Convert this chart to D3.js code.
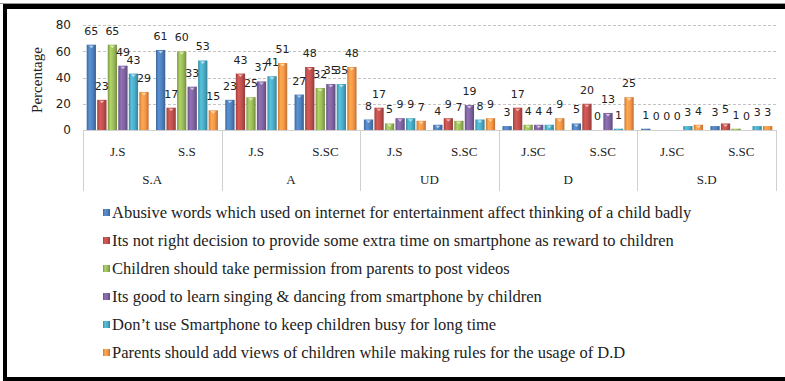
<!DOCTYPE html>
<html>
<head>
<meta charset="utf-8">
<script src="https://cdn.jsdelivr.net/npm/d3@7/dist/d3.min.js"></script>
<style>
  html, body { margin: 0; padding: 0; background: #fff; }
  svg { display: block; }
</style>
</head>
<body>
<svg id="chart" width="785" height="381"></svg>
<script>
// ---------------- DATA ----------------
const groups = ["S.A", "A", "UD", "D", "S.D"];
const subCategories = ["J.S", "S.S", "J.S", "S.SC", "J.S", "S.SC", "J.SC", "S.SC", "J.SC", "S.SC"];
const seriesNames = [
  "Abusive words which used on internet for entertainment affect  thinking of a child badly",
  "Its not right decision to provide some extra time on smartphone as reward to children",
  "Children should take permission from parents to post videos",
  "Its good to learn singing & dancing from smartphone by children",
  "Don\u2019t use Smartphone to keep children busy for long time",
  "Parents should add views of children while making rules for the usage of D.D"
];
const abusiveWords    = [65, 61, 23, 27, 8, 4, 3, 5, 1, 3];
const extraTime       = [23, 17, 43, 48, 17, 9, 17, 20, 0, 5];
const permission      = [65, 60, 25, 32, 5, 7, 4, 0, 0, 1];
const singingDancing  = [49, 33, 37, 35, 9, 19, 4, 13, 0, 0];
const keepBusy        = [43, 53, 41, 35, 9, 8, 4, 1, 3, 3];
const childrenViews   = [29, 15, 51, 48, 7, 9, 9, 25, 4, 3];
const yTicks = [0, 20, 40, 60, 80];
const yTitle = "Percentage";

const seriesValues = [abusiveWords, extraTime, permission, singingDancing, keepBusy, childrenViews];
const colors = ["#4F81BD", "#C0504D", "#9BBB59", "#8064A2", "#4BACC6", "#F79646"];

// ---------------- LAYOUT ----------------
const svg = d3.select("#chart");
const plotLeft = 83, plotRight = 776, plotTop = 25, plotBottom = 130;
const axisBottom = 191;

const catIdx = subCategories.map((d, i) => i);
const x0 = d3.scaleBand().domain(catIdx).range([plotLeft, plotRight]).padding(0);
const xg = d3.scaleBand().domain(groups).range([plotLeft, plotRight]).padding(0);
const x1 = d3.scaleBand().domain(d3.range(seriesValues.length))
  .range([0, x0.bandwidth()]).paddingInner(0.12).paddingOuter(0.35);
const y = d3.scaleLinear().domain([0, 80]).range([plotBottom, plotTop]);

// gradients
const defs = svg.append("defs");
colors.forEach((c, i) => {
  const g = defs.append("linearGradient").attr("id", "g" + i)
    .attr("x1", 0).attr("x2", 1).attr("y1", 0).attr("y2", 0);
  const base = d3.color(c);
  g.append("stop").attr("offset", 0).attr("stop-color", base.darker(0.6));
  g.append("stop").attr("offset", 0.3).attr("stop-color", base.brighter(0.35));
  g.append("stop").attr("offset", 0.65).attr("stop-color", base);
  g.append("stop").attr("offset", 1).attr("stop-color", base.darker(0.8));
});

// frame
svg.append("rect").attr("x", 0).attr("y", 0).attr("width", 785).attr("height", 381).attr("fill", "#fff");
svg.append("rect").attr("x", 0).attr("y", 3).attr("width", 785).attr("height", 1).attr("fill", "#999");
svg.append("rect").attr("x", 3).attr("y", 4).attr("width", 782).attr("height", 5).attr("fill", "#000");
svg.append("rect").attr("x", 3).attr("y", 4).attr("width", 4).attr("height", 377).attr("fill", "#000");
svg.append("rect").attr("x", 3).attr("y", 377).attr("width", 782).attr("height", 4).attr("fill", "#000");

// gridlines
svg.append("g").selectAll("line").data(yTicks.filter(t => t > 0)).join("line")
  .attr("x1", plotLeft).attr("x2", plotRight + 1)
  .attr("y1", d => Math.round(y(d)) + 0.5).attr("y2", d => Math.round(y(d)) + 0.5)
  .attr("stroke", "#c4c4c4").attr("stroke-width", 1).attr("stroke-dasharray", "3,2");

// y axis labels
const yAxis = d3.axisLeft(y).tickValues(yTicks).tickSize(0).tickPadding(0);
const ya = svg.append("g").attr("transform", `translate(71,0)`).call(yAxis);
ya.select(".domain").remove();
ya.selectAll("text").attr("font-family", "DejaVu Sans").attr("font-size", 12).attr("fill", "#222");

// y title
svg.append("text").attr("transform", "translate(42,80) rotate(-90)")
  .attr("text-anchor", "middle").attr("font-family", "Liberation Serif").attr("font-size", 15)
  .attr("fill", "#222").text(yTitle);

// category axis lines
svg.append("line").attr("x1", plotLeft).attr("x2", plotRight + 1)
  .attr("y1", plotBottom + 0.5).attr("y2", plotBottom + 0.5).attr("stroke", "#d0d0d0");
const seps = groups.map(g => xg(g)).concat([plotRight]);
svg.append("g").selectAll("line").data(seps).join("line")
  .attr("x1", d => Math.round(d) + 0.5).attr("x2", d => Math.round(d) + 0.5)
  .attr("y1", plotBottom).attr("y2", axisBottom)
  .attr("stroke", "#d0d0d0");

// sub category labels
svg.append("g").selectAll("text").data(catIdx).join("text")
  .attr("x", d => x0(d) + x0.bandwidth() / 2).attr("y", 156)
  .attr("text-anchor", "middle").attr("font-family", "Liberation Serif").attr("font-size", 13)
  .attr("fill", "#222").text(d => subCategories[d]);
// group labels
svg.append("g").selectAll("text").data(groups).join("text")
  .attr("x", d => xg(d) + xg.bandwidth() / 2).attr("y", 184)
  .attr("text-anchor", "middle").attr("font-family", "Liberation Serif").attr("font-size", 13)
  .attr("fill", "#222").text(d => d);

// bars
const barData = [];
seriesValues.forEach((vals, s) => vals.forEach((v, i) => barData.push({ s, i, v })));
const bars = svg.append("g");
bars.selectAll("rect").data(barData.filter(d => d.v > 0)).join("rect")
  .attr("x", d => x0(d.i) + x1(d.s)).attr("width", x1.bandwidth())
  .attr("y", d => y(d.v)).attr("height", d => y(0) - y(d.v))
  .attr("fill", d => `url(#g${d.s})`);
// top caps
bars.selectAll("path").data(barData.filter(d => y(0) - y(d.v) > 4)).join("path")
  .attr("d", d => {
    const bx = x0(d.i) + x1(d.s), w = x1.bandwidth(), t = y(d.v);
    return `M${bx + w * 0.25},${t + 1}L${bx + w * 0.75},${t + 1}L${bx + w / 2},${t + 3.5}Z`;
  })
  .attr("fill", "#fff").attr("opacity", 0.6);

// value labels
svg.append("g").selectAll("text").data(barData).join("text")
  .attr("x", d => x0(d.i) + x1(d.s) + x1.bandwidth() / 2)
  .attr("y", d => y(d.v) - 10)
  .attr("text-anchor", "middle").attr("font-family", "DejaVu Sans").attr("font-size", 11)
  .attr("fill", "#222").text(d => d.v);

// legend
const legend = svg.append("g");
const rowY = i => 213 + i * 28;
seriesNames.forEach((name, i) => {
  legend.append("rect").attr("x", 103).attr("y", rowY(i) - 4).attr("width", 7).attr("height", 7)
    .attr("fill", `url(#g${i})`);
  legend.append("text").attr("x", 112).attr("y", rowY(i) + 5)
    .attr("font-family", "Liberation Serif").attr("font-size", 16.5).attr("fill", "#222")
    .text(name);
});
</script>
</body>
</html>
